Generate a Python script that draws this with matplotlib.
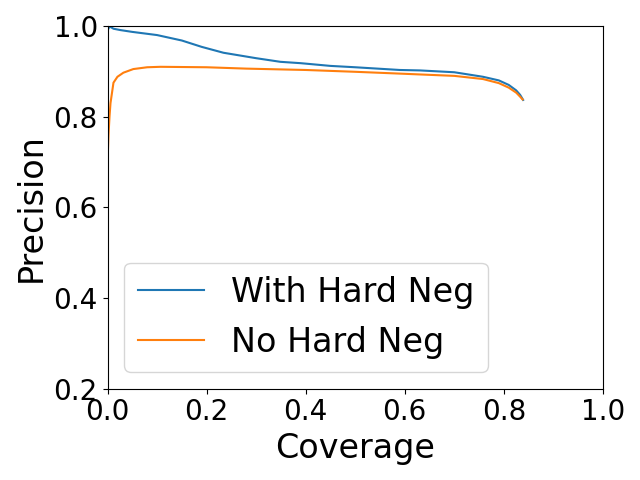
import matplotlib
matplotlib.use("Agg")
import matplotlib.pyplot as plt
import numpy as np

# coverage / precision
cov_hard = [0.0, 0.003, 0.006, 0.012, 0.026, 0.05, 0.10, 0.15, 0.19, 0.234, 0.30, 0.349,
            0.39, 0.45, 0.50, 0.59, 0.631, 0.70, 0.758, 0.79, 0.81, 0.825, 0.833, 0.839]
prec_hard = [0.99, 0.997, 0.998, 0.994, 0.991, 0.987, 0.980, 0.968, 0.954, 0.941, 0.929, 0.921,
             0.918, 0.912, 0.909, 0.903, 0.902, 0.898, 0.888, 0.880, 0.870, 0.858, 0.848, 0.837]

cov_none = [0.0, 0.002, 0.004, 0.006, 0.012, 0.02, 0.032, 0.052, 0.08, 0.107, 0.20, 0.28,
            0.40, 0.50, 0.59, 0.70, 0.758, 0.79, 0.81, 0.825, 0.833, 0.838]
prec_none = [0.70, 0.76, 0.80, 0.83, 0.875, 0.888, 0.897, 0.905, 0.909, 0.910, 0.909, 0.906,
             0.903, 0.899, 0.895, 0.890, 0.883, 0.874, 0.864, 0.853, 0.844, 0.838]

fig, ax = plt.subplots(figsize=(6.4, 4.8), dpi=100)
ax.plot(cov_hard, prec_hard, label="With Hard Neg")
ax.plot(cov_none, prec_none, label="No Hard Neg")
ax.set_xlim(0, 1)
ax.set_ylim(0.2, 1.0)
ax.set_xticks([0, 0.2, 0.4, 0.6, 0.8, 1.0])
ax.set_yticks([0.2, 0.4, 0.6, 0.8, 1.0])
ax.tick_params(labelsize=20)
ax.set_xlabel("Coverage", fontsize=24)
ax.set_ylabel("Precision", fontsize=24)
ax.legend(fontsize=24, loc="lower left")
fig.tight_layout()
fig.savefig("out.png")
